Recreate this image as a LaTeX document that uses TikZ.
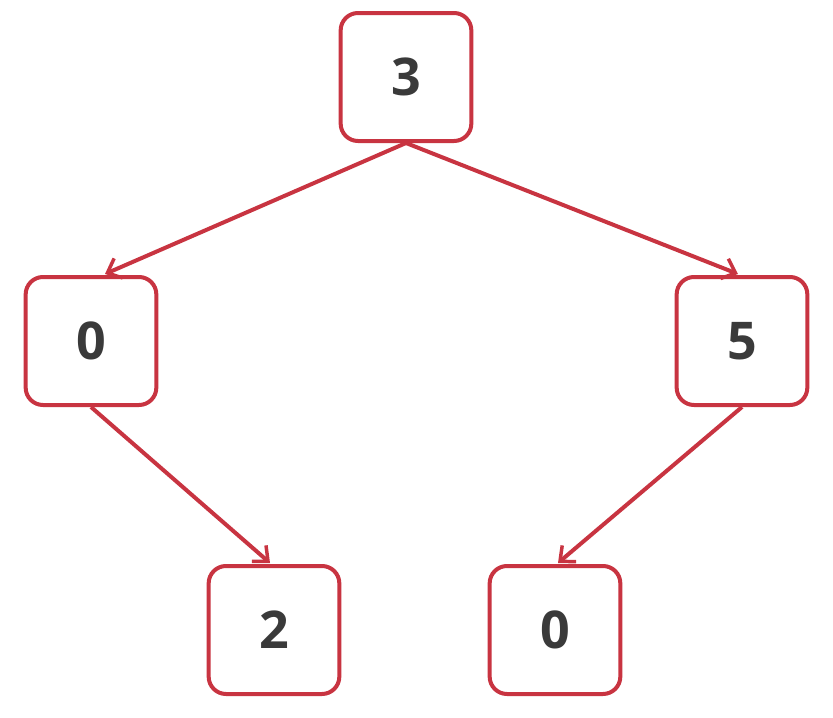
\documentclass[tikz,border=0pt]{standalone}
\usepackage{fontspec}
\setmainfont{Open Sans}
\usetikzlibrary{arrows.meta}
\definecolor{edge}{HTML}{C83441}
\definecolor{txt}{HTML}{3A3A3A}
\begin{document}
\begin{tikzpicture}[x=0.75pt,y=-0.75pt,
  box/.style={draw=edge,line width=3pt,rounded corners=13pt,fill=white,minimum width=98pt,minimum height=96pt,inner sep=0pt,text=txt,font=\fontsize{39}{40}\selectfont\bfseries},
  conn/.style={draw=edge,line width=3pt,-{Straight Barb[length=9pt,width=16pt,line width=2.6pt]}}]
\useasboundingbox (0,0) rectangle (833,718);
\node[box] (a) at (406,77) {3};
\node[box] (b) at (91,341) {0};
\node[box] (c) at (742,341) {5};
\node[box] (d) at (274,630) {2};
\node[box] (e) at (555,630) {0};
\coordinate (bt) at (105,274);
\coordinate (ct) at (738,274);
\coordinate (dt) at (270,563);
\coordinate (et) at (558,563);
\draw[conn] (a.south) -- (bt);
\draw[conn] (a.south) -- (ct);
\draw[conn] (b.south) -- (dt);
\draw[conn] (c.south) -- (et);
\end{tikzpicture}
\end{document}
